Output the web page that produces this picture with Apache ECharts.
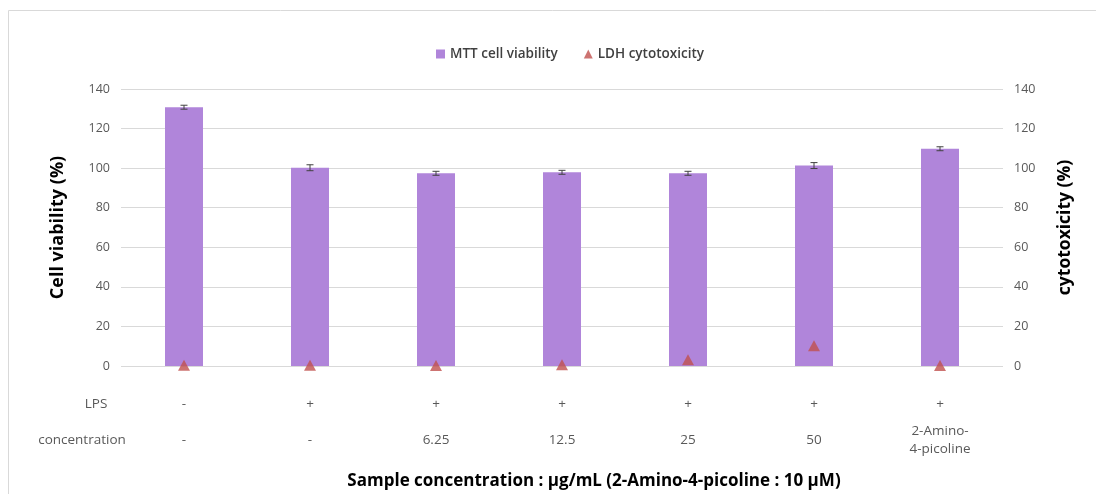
<!DOCTYPE html>
<html>
<head>
<meta charset="utf-8">
<script src="https://cdn.jsdelivr.net/npm/echarts@6/dist/echarts.min.js"></script>
<style>html,body{margin:0;padding:0;background:#fff;}#c{width:1096px;height:494px;}</style>
</head>
<body>
<div id="c"></div>
<script>
const categories = ['g1','g2','g3','g4','g5','g6','g7'];
const lpsLabels = ['-','+','+','+','+','+','+'];
const concLabels = ['-','-','6.25','12.5','25','50','2-Amino-\n4-picoline'];
const mttValues = [130.8, 100.2, 97.4, 97.9, 97.4, 101.3, 109.8];
const mttErrors = [1.0, 1.5, 1.0, 1.0, 1.0, 1.5, 1.0];
const ldhValues = [0.4, 0.4, 0.2, 0.6, 3.2, 10.2, 0.2];
const yTicks = {min: 0, max: 140, interval: 20};

const FONT = '"Open Sans", "Noto Sans", sans-serif';
const chart = echarts.init(document.getElementById('c'), null, {renderer: 'canvas'});

const errData = categories.map((c, i) => [i, mttValues[i] - mttErrors[i], mttValues[i] + mttErrors[i]]);

chart.setOption({
  animation: false,
  textStyle: {fontFamily: FONT},
  legend: {
    top: 42, left: 431,
    itemWidth: 9, itemHeight: 9, itemGap: 26,
    textStyle: {color: '#404040', fontSize: 13.5, fontWeight: 600, fontFamily: FONT},
    data: [
      {name: 'MTT cell viability', icon: 'rect'},
      {name: 'LDH cytotoxicity', icon: 'triangle'}
    ]
  },
  grid: {left: 121, right: 93, top: 89, bottom: 128},
  xAxis: [
    {
      type: 'category', data: categories, position: 'bottom',
      axisLine: {show: false}, axisTick: {show: false},
      axisLabel: {
        interval: 0, margin: 38, verticalAlign: 'middle',
        color: '#595959', fontSize: 13.5, fontFamily: FONT,
        formatter: (v, i) => lpsLabels[i]
      }
    },
    {
      type: 'category', data: categories, position: 'bottom',
      axisLine: {show: false}, axisTick: {show: false},
      axisLabel: {
        interval: 0, margin: 74, verticalAlign: 'middle', lineHeight: 18,
        color: '#595959', fontSize: 13.5, fontFamily: FONT,
        formatter: (v, i) => concLabels[i]
      }
    }
  ],
  yAxis: [
    {
      type: 'value', min: yTicks.min, max: yTicks.max, interval: yTicks.interval,
      name: 'Cell viability (%)', nameLocation: 'middle', nameGap: 54, nameRotate: 90,
      nameTextStyle: {fontSize: 18, fontWeight: 'bold', color: '#000', fontFamily: FONT},
      axisLine: {show: false}, axisTick: {show: false},
      axisLabel: {color: '#595959', fontSize: 12.5, margin: 11, fontFamily: FONT},
      splitLine: {lineStyle: {color: '#d9d9d9', width: 1}}
    },
    {
      type: 'value', min: yTicks.min, max: yTicks.max, interval: yTicks.interval, position: 'right',
      name: 'cytotoxicity (%)', nameLocation: 'middle', nameGap: 53, nameRotate: 90,
      nameTextStyle: {fontSize: 17.5, fontWeight: 'bold', color: '#000', fontFamily: FONT},
      axisLine: {show: false}, axisTick: {show: false},
      axisLabel: {color: '#595959', fontSize: 12.5, margin: 11, fontFamily: FONT},
      splitLine: {show: false}
    }
  ],
  series: [
    {
      name: 'MTT cell viability', type: 'bar', data: mttValues,
      xAxisIndex: 0, yAxisIndex: 0, barWidth: 38,
      itemStyle: {color: '#b085da'}
    },
    {
      name: 'err', type: 'custom', xAxisIndex: 0, yAxisIndex: 0, z: 5,
      data: errData,
      renderItem: function (params, api) {
        const x = api.coord([api.value(0), api.value(1)])[0];
        const lo = api.coord([api.value(0), api.value(1)])[1];
        const hi = api.coord([api.value(0), api.value(2)])[1];
        const hw = 3.5;
        const st = {stroke: '#404040', lineWidth: 1};
        return {type: 'group', children: [
          {type: 'line', shape: {x1: x, y1: lo, x2: x, y2: hi}, style: st},
          {type: 'line', shape: {x1: x - hw, y1: lo, x2: x + hw, y2: lo}, style: st},
          {type: 'line', shape: {x1: x - hw, y1: hi, x2: x + hw, y2: hi}, style: st}
        ]};
      }
    },
    {
      name: 'LDH cytotoxicity', type: 'scatter', data: ldhValues,
      xAxisIndex: 0, yAxisIndex: 1, symbol: 'triangle', symbolSize: [12, 11], z: 6,
      itemStyle: {color: '#c0504d'}
    }
  ],
  graphic: [
    {type: 'rect', left: 6, top: 8, z: -10, shape: {width: 1200, height: 600},
     style: {fill: 'none', stroke: '#d9d9d9', lineWidth: 1}},
    {type: 'text', x: 96, y: 404, style: {text: 'LPS', fill: '#595959', font: '13.5px ' + FONT, textAlign: 'center', textVerticalAlign: 'middle'}},
    {type: 'text', x: 82, y: 440, style: {text: 'concentration', fill: '#595959', font: '13.5px ' + FONT, textAlign: 'center', textVerticalAlign: 'middle'}},
    {type: 'text', x: 594, y: 481, style: {text: 'Sample concentration : \u00b5g/mL (2-Amino-4-picoline : 10 \u00b5M)', fill: '#000', font: 'bold 17px ' + FONT, textAlign: 'center', textVerticalAlign: 'middle'}}
  ]
});
</script>
</body>
</html>
